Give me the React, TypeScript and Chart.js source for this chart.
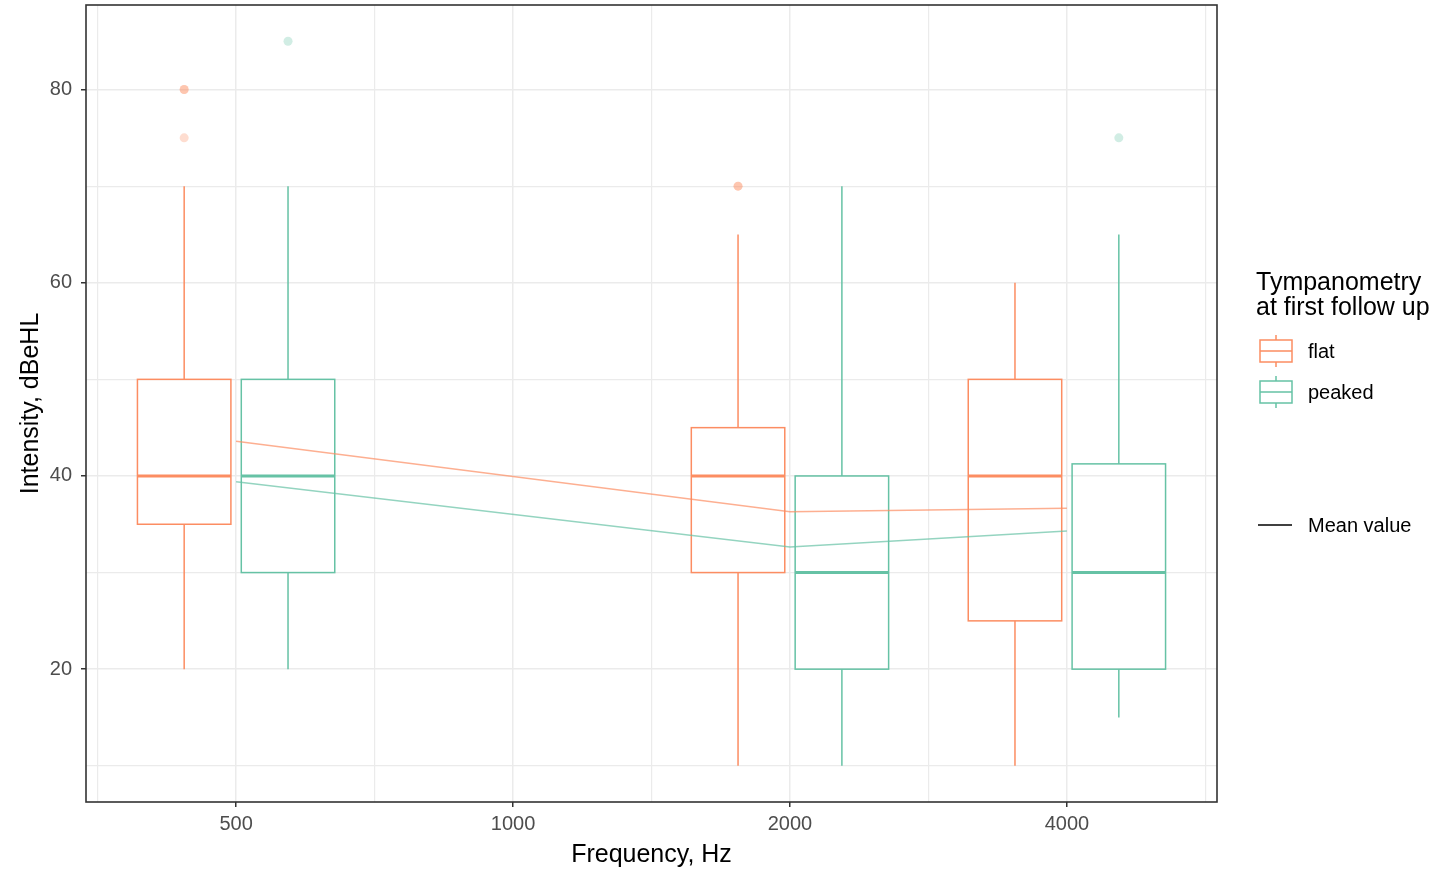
import React, { useEffect, useRef } from 'react';
import { Chart, registerables } from 'chart.js';

Chart.register(...registerables);

// ---------- data ----------
const freqLabels = ['500', '1000', '2000', '4000'];
const freqPositions = [1, 2, 3, 4];
const groupNames = ['flat', 'peaked'];
const boxPositions = [1, 3, 4];

const flatLower = [20, 10, 10];
const flatQ1 = [35, 30, 25];
const flatMedian = [40, 40, 40];
const flatQ3 = [50, 45, 50];
const flatUpper = [70, 65, 60];
const flatOutliers = [[75, 80, 80], [70, 70], []];

const peakedLower = [20, 10, 15];
const peakedQ1 = [30, 20, 20];
const peakedMedian = [40, 30, 30];
const peakedQ3 = [50, 40, 41.25];
const peakedUpper = [70, 70, 65];
const peakedOutliers = [[85], [], [75]];

const meanPositions = [1, 3, 4];
const flatMean = [43.6, 36.3, 36.65];
const peakedMean = [39.4, 32.65, 34.3];

const yTickValues = [10, 20, 30, 40, 50, 60, 70, 80];
const yLabelValues = [20, 40, 60, 80];
const xTickValues = [0.5, 1, 1.5, 2, 2.5, 3, 3.5, 4, 4.5];

const legendTitle = ['Tympanometry', 'at first follow up'];
const meanLabel = 'Mean value';
const xTitle = 'Frequency, Hz';
const yTitle = 'Intensity, dBeHL';

// ---------- style ----------
const FLAT = '#FC8D62';
const PEAKED = '#66C2A5';
const FLAT_PT = 'rgba(252,141,98,0.3)';
const PEAKED_PT = 'rgba(102,194,165,0.3)';
const FLAT_LINE = 'rgba(252,141,98,0.7)';
const PEAKED_LINE = 'rgba(102,194,165,0.7)';
const DODGE = 0.1875;
const BOX_W = 0.3375;
const X_MIN = 0.458;
const X_MAX = 4.542;
const Y_MIN = 6.25;
const Y_MAX = 88.75;
const FONT = '"Liberation Sans", Arial, sans-serif';

const groups = [
  { color: FLAT, off: -DODGE, lower: flatLower, q1: flatQ1, med: flatMedian, q3: flatQ3, upper: flatUpper },
  { color: PEAKED, off: DODGE, lower: peakedLower, q1: peakedQ1, med: peakedMedian, q3: peakedQ3, upper: peakedUpper },
];

const boxPlugin = {
  id: 'boxes',
  beforeDatasetsDraw(chart: any) {
    const { ctx } = chart;
    const x = chart.scales.x;
    const y = chart.scales.y;
    ctx.save();
    groups.forEach((g) => {
      boxPositions.forEach((p, i) => {
        const xc = x.getPixelForValue(p + g.off);
        const xl = x.getPixelForValue(p + g.off - BOX_W / 2);
        const xr = x.getPixelForValue(p + g.off + BOX_W / 2);
        const yLo = y.getPixelForValue(g.lower[i]);
        const yQ1 = y.getPixelForValue(g.q1[i]);
        const yMed = y.getPixelForValue(g.med[i]);
        const yQ3 = y.getPixelForValue(g.q3[i]);
        const yUp = y.getPixelForValue(g.upper[i]);
        ctx.strokeStyle = g.color;
        ctx.lineWidth = 1.5;
        ctx.beginPath();
        ctx.moveTo(xc, yUp);
        ctx.lineTo(xc, yQ3);
        ctx.moveTo(xc, yQ1);
        ctx.lineTo(xc, yLo);
        ctx.stroke();
        ctx.strokeRect(xl, yQ3, xr - xl, yQ1 - yQ3);
        ctx.lineWidth = 3;
        ctx.beginPath();
        ctx.moveTo(xl, yMed);
        ctx.lineTo(xr, yMed);
        ctx.stroke();
      });
    });
    ctx.restore();
  },
};

const framePlugin = {
  id: 'frame',
  afterDraw(chart: any) {
    const { ctx, chartArea } = chart;
    ctx.save();
    ctx.strokeStyle = '#333333';
    ctx.lineWidth = 1.6;
    ctx.strokeRect(chartArea.left, chartArea.top, chartArea.right - chartArea.left, chartArea.bottom - chartArea.top);
    ctx.restore();
  },
};

const legendPlugin = {
  id: 'customLegend',
  afterDraw(chart: any) {
    const { ctx } = chart;
    ctx.save();
    ctx.fillStyle = '#000000';
    ctx.textAlign = 'left';
    ctx.textBaseline = 'alphabetic';
    ctx.font = `25px ${FONT}`;
    ctx.fillText(legendTitle[0], 1256, 290);
    ctx.fillText(legendTitle[1], 1256, 315);

    const keys = [
      { color: FLAT, label: groupNames[0], top: 340 },
      { color: PEAKED, label: groupNames[1], top: 381 },
    ];
    keys.forEach((k) => {
      const l = 1260, r = 1292, t = k.top, b = k.top + 22, c = (l + r) / 2, m = (t + b) / 2;
      ctx.strokeStyle = k.color;
      ctx.lineWidth = 1.5;
      ctx.fillStyle = '#ffffff';
      ctx.fillRect(l, t, r - l, b - t);
      ctx.strokeRect(l, t, r - l, b - t);
      ctx.beginPath();
      ctx.moveTo(c, t - 5);
      ctx.lineTo(c, t);
      ctx.moveTo(c, b);
      ctx.lineTo(c, b + 5);
      ctx.moveTo(l, m);
      ctx.lineTo(r, m);
      ctx.stroke();
      ctx.fillStyle = '#000000';
      ctx.font = `20px ${FONT}`;
      ctx.textBaseline = 'middle';
      ctx.fillText(k.label, 1308, m + 1);
    });

    ctx.strokeStyle = '#000000';
    ctx.lineWidth = 1.5;
    ctx.beginPath();
    ctx.moveTo(1258, 525);
    ctx.lineTo(1292, 525);
    ctx.stroke();
    ctx.fillStyle = '#000000';
    ctx.font = `20px ${FONT}`;
    ctx.textBaseline = 'middle';
    ctx.fillText(meanLabel, 1308, 526);
    ctx.restore();
  },
};

function outlierPoints(outs: number[][], off: number) {
  const pts: { x: number; y: number }[] = [];
  outs.forEach((list, i) => list.forEach((v) => pts.push({ x: boxPositions[i] + off, y: v })));
  return pts;
}

export default function App() {
  const canvasRef = useRef<HTMLCanvasElement | null>(null);

  useEffect(() => {
    if (!canvasRef.current) return;
    const chart = new Chart(canvasRef.current, {
      type: 'scatter',
      data: {
        datasets: [
          {
            label: 'flat outliers',
            data: outlierPoints(flatOutliers, -DODGE),
            backgroundColor: FLAT_PT,
            borderWidth: 0,
            pointRadius: 4.5,
          },
          {
            label: 'peaked outliers',
            data: outlierPoints(peakedOutliers, DODGE),
            backgroundColor: PEAKED_PT,
            borderWidth: 0,
            pointRadius: 4.5,
          },
          {
            label: 'flat mean',
            data: meanPositions.map((p, i) => ({ x: p, y: flatMean[i] })),
            showLine: true,
            borderColor: FLAT_LINE,
            borderWidth: 1.5,
            pointRadius: 0,
            tension: 0,
          },
          {
            label: 'peaked mean',
            data: meanPositions.map((p, i) => ({ x: p, y: peakedMean[i] })),
            showLine: true,
            borderColor: PEAKED_LINE,
            borderWidth: 1.5,
            pointRadius: 0,
            tension: 0,
          },
        ],
      },
      options: {
        animation: false,
        responsive: false,
        maintainAspectRatio: false,
        events: [],
        layout: { padding: { top: 5, right: 225, bottom: 0, left: 0 } },
        plugins: {
          legend: { display: false },
          tooltip: { enabled: false },
        },
        scales: {
          x: {
            type: 'linear',
            min: X_MIN,
            max: X_MAX,
            afterBuildTicks: (scale: any) => {
              scale.ticks = xTickValues.map((v) => ({ value: v }));
            },
            afterFit: (scale: any) => {
              scale.height = 67;
              scale.paddingLeft = 0;
              scale.paddingRight = 0;
            },
            border: { display: false },
            grid: {
              color: '#EBEBEB',
              lineWidth: (c: any) => (c.tick && Number.isInteger(c.tick.value) ? 1.5 : 1.2),
              tickLength: 5,
              tickColor: (c: any) => (c.tick && Number.isInteger(c.tick.value) ? '#333333' : 'rgba(0,0,0,0)'),
              tickWidth: 1.5,
            },
            ticks: {
              autoSkip: false,
              maxRotation: 0,
              padding: 5,
              color: '#4D4D4D',
              font: { family: FONT, size: 20 },
              callback: (v: any) => {
                const idx = freqPositions.indexOf(Number(v));
                return idx >= 0 ? freqLabels[idx] : '';
              },
            },
            title: {
              display: true,
              text: xTitle,
              color: '#000000',
              font: { family: FONT, size: 25 },
              padding: { top: 0, bottom: -1 },
            },
          },
          y: {
            type: 'linear',
            min: Y_MIN,
            max: Y_MAX,
            afterBuildTicks: (scale: any) => {
              scale.ticks = yTickValues.map((v) => ({ value: v }));
            },
            afterFit: (scale: any) => {
              scale.width = 86;
              scale.paddingTop = 0;
              scale.paddingBottom = 0;
            },
            border: { display: false },
            grid: {
              color: '#EBEBEB',
              lineWidth: (c: any) => (c.tick && yLabelValues.includes(c.tick.value) ? 1.5 : 1.2),
              tickLength: 5,
              tickColor: (c: any) => (c.tick && yLabelValues.includes(c.tick.value) ? '#333333' : 'rgba(0,0,0,0)'),
              tickWidth: 1.5,
            },
            ticks: {
              autoSkip: false,
              padding: 9,
              color: '#4D4D4D',
              font: { family: FONT, size: 20 },
              callback: (v: any) => (yLabelValues.includes(Number(v)) ? String(v) : ''),
            },
            title: {
              display: true,
              text: yTitle,
              color: '#000000',
              font: { family: FONT, size: 25 },
              padding: { top: 16, bottom: 0 },
            },
          },
        },
      },
      plugins: [boxPlugin, framePlugin, legendPlugin],
    } as any);
    return () => chart.destroy();
  }, []);

  return (
    <div style={{ position: 'fixed', left: 0, top: 0, width: 1442, height: 869, background: '#ffffff' }}>
      <canvas ref={canvasRef} width={1442} height={869} style={{ display: 'block' }} />
    </div>
  );
}
